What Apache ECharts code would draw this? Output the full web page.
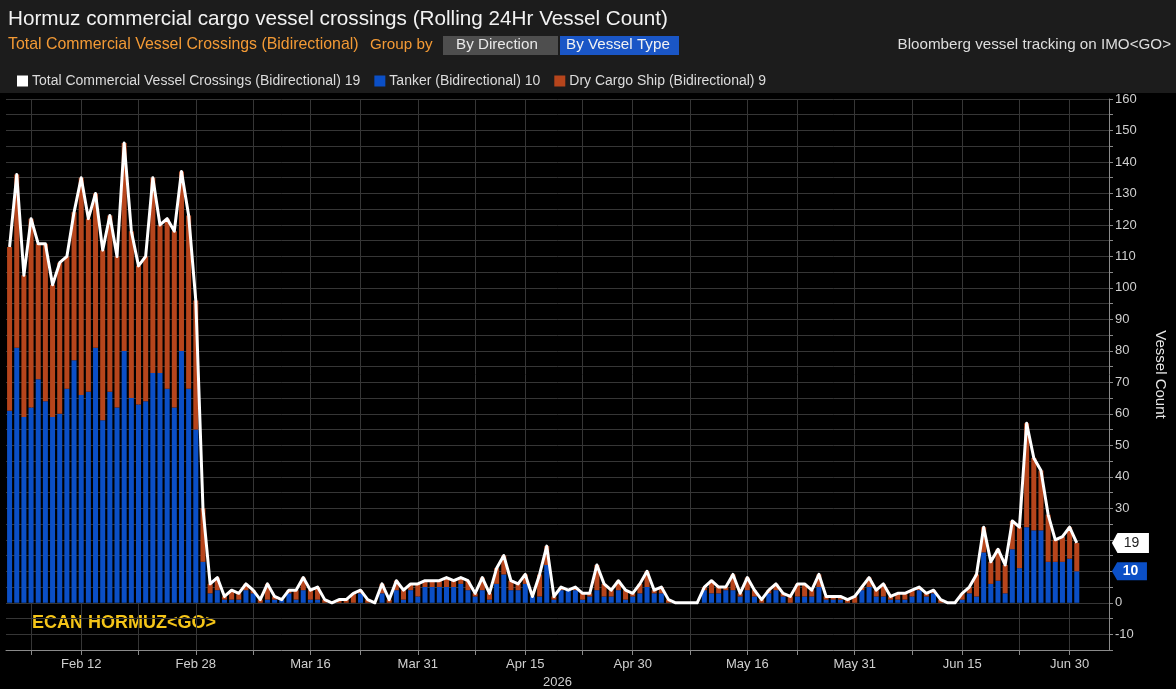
<!DOCTYPE html>
<html>
<head>
<meta charset="utf-8">
<script src="https://cdn.jsdelivr.net/npm/echarts@6/dist/echarts.min.js"></script>
<style>
html,body{margin:0;padding:0;background:#000;overflow:hidden;}
#chart{width:1176px;height:689px;}
</style>
</head>
<body>
<div id="chart"></div>
<script>
// ---- data (daily, Feb 2 2026 -> Jul 1 2026) ----
const startDate = [2026, 1, 2];      // Feb 2, 2026
const axisDays = 154;                // axis runs a few days past the last data point
const monthNames = ['Jan','Feb','Mar','Apr','May','Jun','Jul','Aug','Sep','Oct','Nov','Dec'];

const totalCrossings = [
  113,136,104,122,114,114,101,108,110,124,
  135,122,130,112,123,110,146,118,107,110,
  135,120,122,118,137,123,96,30,6,8,
  2,4,3,6,4,1,6,2,1,4,
  4,8,4,5,1,0,1,1,3,4,
  1,0,6,1,7,4,6,6,7,7,
  7,8,7,8,7,3,8,3,11,15,
  7,6,9,2,9,18,2,5,4,5,
  3,3,12,6,4,7,4,3,6,10,
  4,5,1,0,0,0,0,5,7,5,
  5,9,3,8,4,1,4,6,3,2,
  6,6,4,9,2,2,2,1,2,5,
  8,4,6,2,3,3,4,5,3,4,
  1,0,0,3,5,9,24,13,17,12,
  26,24,57,46,42,28,20,21,24,19
];
const tanker = [
  61,81,59,62,71,64,59,60,68,77,
  66,67,81,58,67,62,80,65,63,64,
  73,73,68,62,80,68,55,13,3,4,
  1,1,1,4,3,0,1,1,1,3,
  1,4,1,1,0,0,0,0,0,3,
  0,0,3,0,4,1,4,2,5,5,
  5,5,5,6,4,2,4,1,6,9,
  4,4,6,2,2,12,1,4,4,4,
  1,2,4,2,2,4,1,2,3,5,
  3,3,0,0,0,0,0,4,3,3,
  4,4,2,4,2,0,3,4,2,0,
  2,2,2,5,1,1,1,0,0,4,
  5,2,2,1,1,1,2,4,2,3,
  0,0,0,1,3,2,16,6,7,3,
  17,11,24,23,23,13,13,13,14,10
];
const dryCargo = [
  52,55,45,60,43,50,42,48,42,47,
  69,55,49,54,56,48,66,53,44,46,
  62,47,54,56,57,55,41,17,3,4,
  1,3,2,2,1,1,5,1,0,1,
  3,4,3,4,1,0,1,1,3,1,
  1,0,3,1,3,3,2,4,2,2,
  2,3,2,2,3,1,4,2,5,6,
  3,2,3,0,7,6,1,1,0,1,
  2,1,8,4,2,3,3,1,3,5,
  1,2,1,0,0,0,0,1,4,2,
  1,5,1,4,2,1,1,2,1,2,
  4,4,2,4,1,1,1,1,2,1,
  3,2,4,1,2,2,2,1,1,1,
  1,0,0,2,2,7,8,7,10,9,
  9,13,33,23,19,15,7,8,10,9
];
const tickLabels = ['Feb 12','Feb 28','Mar 16','Mar 31','Apr 15','Apr 30','May 16','May 31','Jun 15','Jun 30'];
const gridDates  = ['Feb 5','Feb 12','Feb 20','Feb 28','Mar 8','Mar 16','Mar 23','Mar 31','Apr 8','Apr 15',
                    'Apr 23','Apr 30','May 8','May 16','May 23','May 31','Jun 8','Jun 15','Jun 23','Jun 30'];

const NAME_TOTAL = 'Total Commercial Vessel Crossings (Bidirectional)';
const NAME_TANKER = 'Tanker (Bidirectional)';
const NAME_DRY = 'Dry Cargo Ship (Bidirectional)';

// ---- build categories ----
const categories = [];
for (let k = 0; k < axisDays; k++) {
  const d = new Date(Date.UTC(startDate[0], startDate[1], startDate[2] + k));
  categories.push(monthNames[d.getUTCMonth()] + ' ' + d.getUTCDate());
}
const lastIdx = totalCrossings.length - 1;
const lastVals = {};
lastVals[NAME_TOTAL] = totalCrossings[lastIdx];
lastVals[NAME_TANKER] = tanker[lastIdx];
lastVals[NAME_DRY] = dryCargo[lastIdx];

const FONT = "'Liberation Sans', Arial, sans-serif";
const BLUE = '#0b4fc6';
const ORANGE = '#b6451c';
const GRIDC = '#363636';
const AXISC = '#8a8a8a';
const LBLC = '#cfcfcf';
const TAG = 'path://M0,9 L6,0 L40,0 L40,18 L6,18 Z';

const chart = echarts.init(document.getElementById('chart'), null, {renderer: 'canvas'});
const option = {
  backgroundColor: '#000',
  animation: false,
  textStyle: {fontFamily: FONT},
  grid: {left: 6, right: 67, top: 99, bottom: 39, containLabel: false, outerBoundsMode: 'none'},
  legend: {
    left: 12, top: 69, icon: 'rect', itemWidth: 11, itemHeight: 11, itemGap: 14,
    data: [NAME_TOTAL, NAME_TANKER, NAME_DRY],
    textStyle: {color: '#dcdcdc', fontSize: 14, fontFamily: FONT, padding: [0, 0, 0, -1]},
    formatter: function (name) { return name + ' ' + lastVals[name]; },
    selectedMode: false
  },
  xAxis: {
    type: 'category',
    data: categories,
    boundaryGap: true,
    name: '2026',
    nameLocation: 'middle',
    nameGap: 24,
    nameTextStyle: {color: LBLC, fontSize: 13, fontFamily: FONT},
    axisLine: {onZero: false, lineStyle: {color: AXISC, width: 1}},
    axisTick: {
      show: true, alignWithLabel: true, length: 5, lineStyle: {color: AXISC},
      interval: function (i, v) { return gridDates.indexOf(v) >= 0; }
    },
    axisLabel: {
      color: LBLC, fontSize: 13, fontFamily: FONT, margin: 8,
      interval: function (i, v) { return tickLabels.indexOf(v) >= 0; }
    },
    splitLine: {
      show: true, alignWithLabel: true, lineStyle: {color: GRIDC, width: 1},
      interval: function (i, v) { return gridDates.indexOf(v) >= 0; }
    }
  },
  yAxis: {
    type: 'value',
    position: 'right',
    min: -15, max: 160, interval: 5,
    name: 'Vessel Count',
    nameLocation: 'middle',
    nameRotate: -90,
    nameGap: 44,
    nameTextStyle: {color: '#e6e6e6', fontSize: 15, fontFamily: FONT},
    axisLine: {show: true, lineStyle: {color: AXISC}},
    axisTick: {show: true, length: 4, lineStyle: {color: AXISC}},
    axisLabel: {
      color: LBLC, fontSize: 13, fontFamily: FONT, margin: 6,
      formatter: function (v) { return (v % 10 === 0) ? String(v) : ''; }
    },
    splitLine: {show: true, lineStyle: {color: GRIDC, width: 1}}
  },
  series: [
    {
      name: NAME_TANKER, type: 'bar', stack: 'vessels', data: tanker,
      barWidth: '70%', itemStyle: {color: BLUE},
      markPoint: {
        symbol: TAG, symbolSize: [35, 18], symbolKeepAspect: false, symbolOffset: [24, 0],
        itemStyle: {color: BLUE},
        label: {show: true, position: 'inside', color: '#fff', fontSize: 14, fontWeight: 'bold', fontFamily: FONT, offset: [1, 0], formatter: '{c}'},
        data: [{coord: [categories[axisDays - 1], tanker[lastIdx]], value: tanker[lastIdx]}]
      }
    },
    {
      name: NAME_DRY, type: 'bar', stack: 'vessels', data: dryCargo,
      barWidth: '70%', itemStyle: {color: ORANGE}
    },
    {
      name: NAME_TOTAL, type: 'line', data: totalCrossings, z: 5,
      symbol: 'none', itemStyle: {color: '#ffffff'},
      lineStyle: {color: '#ffffff', width: 3, join: 'round'},
      markPoint: {
        symbol: TAG, symbolSize: [37, 20], symbolKeepAspect: false, symbolOffset: [25, 0],
        itemStyle: {color: '#ffffff'},
        label: {show: true, position: 'inside', color: '#222', fontSize: 14, fontFamily: FONT, offset: [1, 0], formatter: '{c}'},
        data: [{coord: [categories[axisDays - 1], totalCrossings[lastIdx]], value: totalCrossings[lastIdx]}]
      }
    }
  ],
  graphic: [
    {type: 'rect', left: 0, top: 0, z: -10, silent: true,
     shape: {width: 1176, height: 93}, style: {fill: '#1c1c1c'}},
    {type: 'text', left: 8, top: 9, silent: true,
     style: {text: 'Hormuz commercial cargo vessel crossings (Rolling 24Hr Vessel Count)', fill: '#f2f2f2', font: '20.7px ' + FONT}},
    {type: 'text', left: 8, top: 37, silent: true,
     style: {text: 'Total Commercial Vessel Crossings (Bidirectional)', fill: '#f39a35', font: '15.9px ' + FONT}},
    {type: 'text', left: 370, top: 37, silent: true,
     style: {text: 'Group by', fill: '#f39a35', font: '15.2px ' + FONT}},
    {type: 'rect', left: 443, top: 36, silent: true, shape: {width: 115, height: 19}, style: {fill: '#4e4e4e'}},
    {type: 'text', left: 456, top: 37, silent: true,
     style: {text: 'By Direction', fill: '#e8e8e8', font: '15.2px ' + FONT}},
    {type: 'rect', left: 560, top: 36, silent: true, shape: {width: 119, height: 19}, style: {fill: '#1a56c6'}},
    {type: 'text', left: 566, top: 37, silent: true,
     style: {text: 'By Vessel Type', fill: '#f2f2f2', font: '15.2px ' + FONT}},
    {type: 'text', right: 5, top: 37, silent: true,
     style: {text: 'Bloomberg vessel tracking on IMO<GO>', fill: '#dedede', font: '15.2px ' + FONT}},
    {type: 'text', left: 32, top: 614, silent: true,
     style: {text: 'ECAN HORMUZ<GO>', fill: '#f5c518', font: 'bold 18px ' + FONT}}
  ]
};
chart.setOption(option);
</script>
</body>
</html>
